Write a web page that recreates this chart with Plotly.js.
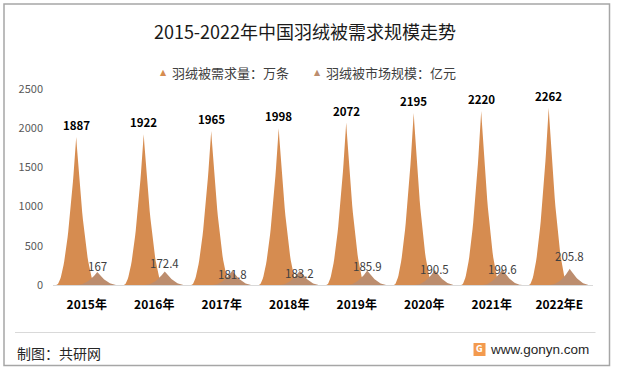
<!DOCTYPE html>
<html>
<head>
<meta charset="utf-8">
<script src="https://cdn.plot.ly/plotly-3.0.1.min.js"></script>
<style>html,body{margin:0;padding:0;background:#fff;}#chart{width:617px;height:372px;}</style>
</head>
<body>
<div id="chart"></div>
<script>
// ---- data ----
const categories = ['2015年', '2016年', '2017年', '2018年', '2019年', '2020年', '2021年', '2022年E'];
const demand = [1887, 1922, 1965, 1998, 2072, 2195, 2220, 2262];          // 羽绒被需求量：万条
const market = [167, 172.4, 181.8, 183.2, 185.9, 190.5, 199.6, 205.8];     // 羽绒被市场规模：亿元
const seriesNames = ['羽绒被需求量：万条', '羽绒被市场规模：亿元'];
const yTicks = [0, 500, 1000, 1500, 2000, 2500];

// ---- style / layout helpers ----
const FONT = 'Noto Sans CJK SC, Noto Sans, sans-serif';
const colDemand = 'rgb(214,140,80)';
const colMarket = 'rgb(188,141,110)';
const offset = 0.156;     // category offset of each series
const halfW = 0.296;      // half width of each spike
const marketLabelShift = [6, 8, -3, -2, 4, 1, 0, 13];

const W = 617, H = 372, L = 53, R = 24, T = 89, B = 87;
const pw = W - L - R, ph = H - T - B;
const px = v => (v - L) / pw;
const py = v => (H - B - v) / ph;

function spikes(values, off) {
  const xs = [], ys = [];
  const N = 60;
  values.forEach((v, i) => {
    const c = i + off;
    for (let k = 0; k <= N; k++) {
      const t = -1 + 2 * k / N;
      xs.push(c + t * halfW);
      ys.push(v * Math.pow(1 - Math.abs(t), 2));
    }
    xs.push(null); ys.push(null);
  });
  return {xs, ys};
}

const sd = spikes(demand, -offset);
const sm = spikes(market, offset);

const traces = [
  {x: sd.xs, y: sd.ys, type: 'scatter', mode: 'lines', fill: 'toself', fillcolor: colDemand,
   line: {width: 0, color: colDemand}, name: seriesNames[0], showlegend: false, hoverinfo: 'skip'},
  {x: sm.xs, y: sm.ys, type: 'scatter', mode: 'lines', fill: 'toself', fillcolor: colMarket,
   line: {width: 0, color: colMarket}, name: seriesNames[1], showlegend: false, hoverinfo: 'skip'}
];

const annotations = [];
demand.forEach((v, i) => {
  annotations.push({x: i - offset, y: v, xref: 'x', yref: 'y', text: String(v), showarrow: false,
    yanchor: 'middle', yshift: 12, font: {family: FONT, size: 11.5, color: '#000', weight: 'bold'}});
});
market.forEach((v, i) => {
  annotations.push({x: i + offset, y: v, xref: 'x', yref: 'y', text: String(v), showarrow: false,
    yanchor: 'middle', yshift: marketLabelShift[i], font: {family: FONT, size: 11.5, color: '#404040'}});
});
// legend
annotations.push({xref: 'paper', yref: 'paper', x: px(163), y: py(72), text: '▲', showarrow: false,
  xanchor: 'center', yanchor: 'middle', font: {family: 'DejaVu Sans', size: 8, color: colDemand}});
annotations.push({xref: 'paper', yref: 'paper', x: px(170), y: py(72), text: seriesNames[0], showarrow: false,
  xanchor: 'left', yanchor: 'middle', font: {family: FONT, size: 13, color: '#404040'}});
annotations.push({xref: 'paper', yref: 'paper', x: px(317), y: py(72), text: '▲', showarrow: false,
  xanchor: 'center', yanchor: 'middle', font: {family: 'DejaVu Sans', size: 8, color: colMarket}});
annotations.push({xref: 'paper', yref: 'paper', x: px(324), y: py(72), text: seriesNames[1], showarrow: false,
  xanchor: 'left', yanchor: 'middle', font: {family: FONT, size: 13, color: '#404040'}});
// footer
annotations.push({xref: 'paper', yref: 'paper', x: px(15), y: py(352.5), text: '制图：共研网', showarrow: false,
  xanchor: 'left', yanchor: 'middle', font: {family: FONT, size: 14, color: '#262626'}});
annotations.push({xref: 'paper', yref: 'paper', x: px(591), y: py(349.5), text: 'www.gonyn.com', showarrow: false,
  xanchor: 'right', yanchor: 'middle', font: {family: 'Liberation Sans, Arial, sans-serif', size: 13.5, color: '#262626'}});
annotations.push({xref: 'paper', yref: 'paper', x: px(479.5), y: py(349.5), text: '<b>G</b>', showarrow: false,
  xanchor: 'center', yanchor: 'middle', font: {family: 'DejaVu Sans', size: 8, color: '#fff'}});

const shapes = [
  {type: 'rect', xref: 'paper', yref: 'paper', x0: px(4), x1: px(609.5), y0: py(365.5), y1: py(4),
   line: {color: '#A6A6A6', width: 1.5}, fillcolor: 'rgba(0,0,0,0)', layer: 'below'},
  {type: 'line', xref: 'paper', yref: 'paper', x0: px(15), x1: px(595.5), y0: py(332.5), y1: py(332.5),
   line: {color: '#D9D9D9', width: 1}},
  {type: 'rect', xref: 'paper', yref: 'paper', x0: px(473.5), x1: px(485.5), y0: py(356), y1: py(343),
   line: {width: 0}, fillcolor: '#F39A4E', layer: 'below'}
];

const layout = {
  width: W, height: H,
  margin: {l: L, r: R, t: T, b: B, pad: 0},
  paper_bgcolor: '#fff', plot_bgcolor: '#fff',
  showlegend: false,
  title: {text: '2015-2022年中国羽绒被需求规模走势', x: 305 / W, xref: 'container', xanchor: 'center',
    y: 1 - 33 / H, yref: 'container', yanchor: 'middle', font: {family: FONT, size: 18, color: '#1a1a1a'}},
  xaxis: {range: [-0.5, 7.5], tickvals: categories.map((c, i) => i), ticktext: categories,
    showgrid: false, zeroline: false, showline: true, linecolor: '#D9D9D9', linewidth: 1,
    ticks: '', ticklabelstandoff: 9, tickfont: {family: FONT, size: 12, color: '#000', weight: 'bold'},
    fixedrange: true},
  yaxis: {range: [0, 2500], tickvals: yTicks, ticktext: yTicks.map(String),
    showgrid: false, zeroline: false, showline: false, ticks: '', ticklabelstandoff: 9,
    tickfont: {family: FONT, size: 11, color: '#595959'}, fixedrange: true},
  annotations, shapes
};

Plotly.newPlot('chart', traces, layout, {displayModeBar: false, staticPlot: true});
</script>
</body>
</html>
